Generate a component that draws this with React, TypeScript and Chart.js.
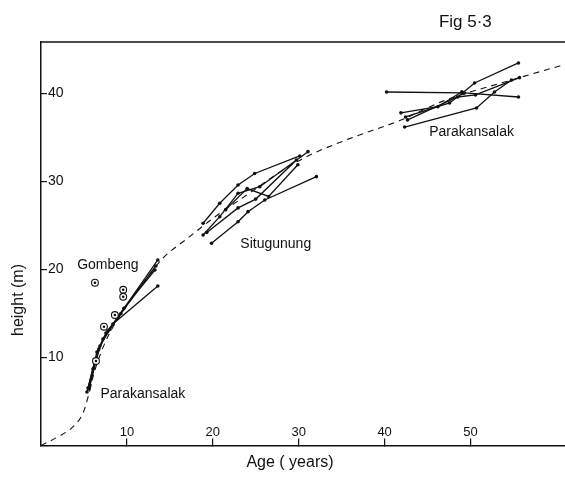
import React, { useEffect, useRef } from 'react';
import { Chart, registerables } from 'chart.js';

Chart.register(...registerables);

// ---- axis ticks ----
const X_TICKS = [10, 20, 30, 40, 50];
const Y_TICKS = [10, 20, 30, 40];

// ---- fitted mean growth curve (dashed) : [age, height] ----
const meanCurve: number[][] = [
  [0, 0], [2, 1.0], [3.8, 2.2], [4.9, 3.7], [5.5, 5.6], [6.2, 8.3], [7, 10.6],
  [8, 12.8], [10, 15.9], [12, 18.6], [14.2, 21.3], [17, 23.5], [20, 25.8],
  [24.3, 28.7], [28, 31.2], [31.3, 33.0], [36, 34.9], [41.7, 36.9], [47, 39.2],
  [54.3, 41.4], [61, 43.3],
];

// ---- Parakansalak (young stands) ----
const parakansalakYoungA = [[5.35, 6.08], [6.05, 8.69], [6.74, 10.97], [7.79, 13.01], [8.95, 14.6], [13.6, 21.08]];
const parakansalakYoungB = [[5.58, 6.42], [6.4, 9.83], [7.21, 12.1], [8.37, 13.81], [13.6, 18.13]];
const parakansalakYoungC = [[5.47, 6.53], [6.51, 10.63], [7.56, 12.78], [9.3, 15.0], [13.37, 20.4]];
const parakansalakYoungD = [[5.7, 6.88], [6.86, 11.31], [8.02, 13.18], [9.65, 15.6], [13.26, 19.94]];

// ---- Situgunung ----
const situgunungA = [[18.87, 25.25], [20.81, 27.52], [22.94, 29.6], [24.88, 30.91], [30.12, 32.9]];
const situgunungB = [[18.87, 23.92], [20.81, 26.0], [22.94, 28.66], [25.47, 29.41], [31.08, 33.39]];
const situgunungC = [[19.3, 24.2], [22.94, 27.0], [25.0, 28.0], [29.73, 32.44]];
const situgunungD = [[19.85, 22.98], [22.94, 25.43], [24.1, 26.57], [26.05, 27.9], [32.06, 30.55]];
const situgunungE = [[21.5, 26.8], [24.0, 29.2], [26.5, 28.3], [29.9, 31.9]];

// ---- Parakansalak (old stands) ----
const parakansalakOldA = [[40.23, 40.17], [49.3, 40.06], [55.58, 39.6]];
const parakansalakOldB = [[42.44, 37.33], [47.56, 38.92], [49.07, 40.06], [50.47, 41.19], [55.58, 43.47]];
const parakansalakOldC = [[42.33, 36.19], [50.7, 38.35], [52.79, 40.17], [54.77, 41.53]];
const parakansalakOldD = [[42.67, 37.0], [48.49, 39.6], [50.58, 39.83], [55.7, 41.8]];
const parakansalakOldE = [[41.9, 37.8], [46.2, 38.5], [49.0, 40.2]];

// ---- Gombeng single trees (circled points) ----
const gombengAges = [6.28, 9.57, 9.57, 8.6, 7.33, 6.4];
const gombengHeights = [18.5, 17.7, 16.9, 14.83, 13.5, 9.6];

// ---- annotation texts and anchors (age, height) ----
const labelTexts = ['Gombeng', 'Parakansalak', 'Situgunung', 'Parakansalak', 'Fig 5·3'];
const labelAges = [7.79, 11.86, 27.33, 50.12, 49.4];
const labelHeights = [20.51, 5.85, 22.9, 35.63, 48.1];

const FONT = '"Liberation Sans", Arial, sans-serif';

const toXY = (pts: number[][]) => pts.map(([x, y]) => ({ x, y }));

const lineDs = (pts: number[][]) => ({
  type: 'scatter' as const,
  data: toXY(pts),
  showLine: true,
  borderColor: '#111',
  borderWidth: 1.3,
  pointRadius: 1.8,
  pointBackgroundColor: '#111',
  pointBorderWidth: 0,
  tension: 0,
  order: 2,
});

const annotPlugin = {
  id: 'annot',
  afterDraw(chart: any) {
    const { ctx, chartArea, scales } = chart;
    const xs = scales.x;
    const ys = scales.y;
    ctx.save();
    // top frame line
    ctx.strokeStyle = '#111';
    ctx.lineWidth = 1.4;
    ctx.beginPath();
    ctx.moveTo(chartArea.left, chartArea.top);
    ctx.lineTo(chartArea.right, chartArea.top);
    ctx.stroke();

    ctx.fillStyle = '#111';
    ctx.textAlign = 'center';
    ctx.textBaseline = 'middle';
    labelTexts.forEach((t, i) => {
      ctx.font = (i === 4 ? '17px ' : '14px ') + FONT;
      ctx.fillText(t, xs.getPixelForValue(labelAges[i]), ys.getPixelForValue(labelHeights[i]));
    });

    // axis titles
    ctx.font = '16px ' + FONT;
    ctx.fillText('Age ( years)', chartArea.left + 249, chartArea.bottom + 17);
    ctx.translate(19, chartArea.top + 258);
    ctx.rotate(-Math.PI / 2);
    ctx.fillText('height (m)', 0, 0);
    ctx.restore();
  },
};

export default function App() {
  const ref = useRef<HTMLCanvasElement | null>(null);

  useEffect(() => {
    if (!ref.current) return;
    const datasets: any[] = [
      {
        type: 'scatter',
        data: toXY(meanCurve),
        showLine: true,
        borderColor: '#111',
        borderWidth: 1.1,
        borderDash: [6, 5],
        pointRadius: 0,
        cubicInterpolationMode: 'monotone',
        order: 1,
      },
      ...[parakansalakYoungA, parakansalakYoungB, parakansalakYoungC, parakansalakYoungD].map(lineDs),
      ...[situgunungA, situgunungB, situgunungC, situgunungD, situgunungE].map(lineDs),
      ...[parakansalakOldA, parakansalakOldB, parakansalakOldC, parakansalakOldD, parakansalakOldE].map(lineDs),
      {
        type: 'scatter',
        data: gombengAges.map((x, i) => ({ x, y: gombengHeights[i] })),
        showLine: false,
        pointRadius: 3.4,
        pointBorderWidth: 1.1,
        pointBorderColor: '#111',
        pointBackgroundColor: '#fff',
        order: -1,
      },
      {
        type: 'scatter',
        data: gombengAges.map((x, i) => ({ x, y: gombengHeights[i] })),
        showLine: false,
        pointRadius: 1.3,
        pointBorderWidth: 0,
        pointBackgroundColor: '#111',
        order: -2,
      },
    ];

    const chart = new Chart(ref.current, {
      type: 'scatter',
      data: { datasets },
      options: {
        animation: false,
        responsive: false,
        events: [],
        layout: { autoPadding: false, padding: { top: 42, left: 0, right: 0, bottom: 0 } },
        plugins: { legend: { display: false }, tooltip: { enabled: false }, title: { display: false } },
        scales: {
          x: {
            type: 'linear',
            position: 'bottom',
            min: 0,
            max: 61,
            afterBuildTicks: (s: any) => { s.ticks = X_TICKS.map((v) => ({ value: v })); },
            afterFit: (s: any) => { s.height = 31.5; },
            grid: { drawOnChartArea: false, drawTicks: true, tickLength: -7, color: '#111', lineWidth: 1.2 },
            border: { display: true, color: '#111', width: 1.5 },
            ticks: { color: '#111', font: { family: FONT, size: 13 }, mirror: true, padding: 5, maxRotation: 0, autoSkip: false },
          },
          y: {
            type: 'linear',
            position: 'left',
            min: 0,
            max: 45.85,
            afterBuildTicks: (s: any) => { s.ticks = Y_TICKS.map((v) => ({ value: v })); },
            afterFit: (s: any) => { s.width = 41; },
            grid: { drawOnChartArea: false, drawTicks: true, tickLength: -6, color: '#111', lineWidth: 1.2 },
            border: { display: true, color: '#111', width: 1.5 },
            ticks: { color: '#111', font: { family: FONT, size: 14 }, mirror: true, padding: 7, autoSkip: false },
          },
        },
      },
      plugins: [annotPlugin],
    } as any);
    return () => chart.destroy();
  }, []);

  return (
    <div style={{ position: 'fixed', left: 0, top: 0, width: 565, height: 477, background: '#fff' }}>
      <canvas ref={ref} width={565} height={477} style={{ width: 565, height: 477 }} />
    </div>
  );
}
